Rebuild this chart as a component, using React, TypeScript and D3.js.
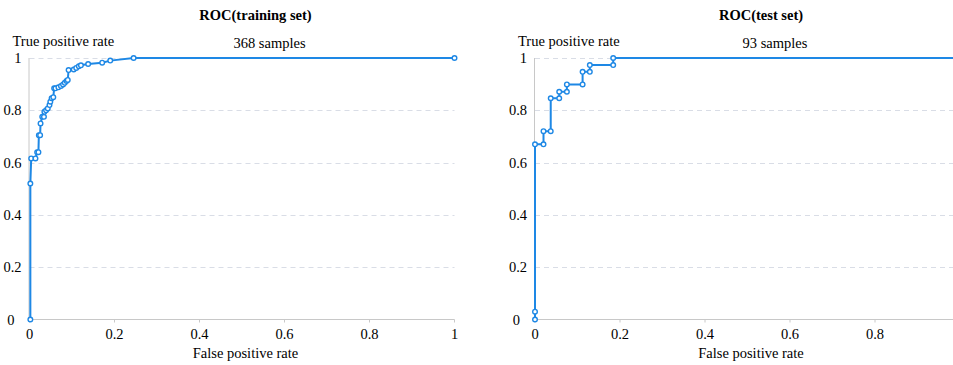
import * as d3 from 'd3'

// training set ROC corners
const trainFpr = [0.002, 0.002, 0.004, 0.014, 0.018, 0.021, 0.022, 0.025, 0.026, 0.03, 0.034, 0.035, 0.039, 0.043, 0.047, 0.049, 0.052, 0.056, 0.058, 0.061, 0.068, 0.074, 0.079, 0.083, 0.087, 0.09, 0.092, 0.104, 0.11, 0.116, 0.121, 0.138, 0.171, 0.19, 0.245, 1]
const trainTpr = [0, 0.52, 0.616, 0.616, 0.64, 0.64, 0.705, 0.705, 0.75, 0.775, 0.775, 0.794, 0.8, 0.807, 0.82, 0.833, 0.846, 0.85, 0.884, 0.884, 0.888, 0.893, 0.899, 0.905, 0.912, 0.916, 0.954, 0.956, 0.962, 0.968, 0.972, 0.977, 0.982, 0.99, 1, 1]

// test set ROC corners
const testFpr = [0, 0, 0, 0.02, 0.02, 0.037, 0.037, 0.057, 0.057, 0.075, 0.075, 0.112, 0.112, 0.129, 0.129, 0.184, 0.184, 1]
const testTpr = [0, 0.03, 0.67, 0.67, 0.72, 0.72, 0.846, 0.846, 0.871, 0.871, 0.899, 0.899, 0.947, 0.947, 0.973, 0.973, 1, 1]

const yTicks = [0, 0.2, 0.4, 0.6, 0.8, 1]
const trainXTicks = [0, 0.2, 0.4, 0.6, 0.8, 1]
const testXTicks = [0, 0.2, 0.4, 0.6, 0.8]

const BLUE = '#1e88e5'
const FONT = '"Liberation Serif", "Times New Roman", serif'

interface PanelProps {
  title: string
  samples: string
  fpr: number[]
  tpr: number[]
  xTicks: number[]
  left: number
  clipRight: number
}

function Panel({ title, samples, fpr, tpr, xTicks, left, clipRight }: PanelProps) {
  const top = 58
  const bottom = 319.5
  const width = 425
  const x = d3.scaleLinear().domain([0, 1]).range([left, left + width])
  const y = d3.scaleLinear().domain([0, 1]).range([bottom, top])
  const pts = fpr.map((f, i) => [f, tpr[i]] as [number, number])
  const line = d3
    .line<[number, number]>()
    .x((d) => x(d[0]))
    .y((d) => y(d[1]))
  const right = Math.min(x(1), clipRight)

  return (
    <g fontFamily={FONT}>
      <text x={left + 226} y={20} textAnchor="middle" fontWeight="bold" fontSize={14.5}>
        {title}
      </text>
      <text x={left - 17} y={46} fontSize={14.5}>
        True positive rate
      </text>
      <text x={left + 240} y={48} textAnchor="middle" fontSize={14.5}>
        {samples}
      </text>
      {yTicks.map((t) => (
        <g key={`y${t}`}>
          {t > 0 && (
            <line
              x1={x(0)}
              x2={right}
              y1={Math.round(y(t)) + 0.5}
              y2={Math.round(y(t)) + 0.5}
              stroke="#d9dde6"
              strokeDasharray="5,4"
            />
          )}
          <text
            x={t === 0 ? left - 15 : left - 8}
            y={y(t) + 5}
            textAnchor="end"
            fontSize={14.5}
          >
            {t}
          </text>
        </g>
      ))}
      <line x1={x(0) - 0.5} x2={x(0) - 0.5} y1={top} y2={bottom} stroke="#c8c8c8" />
      <line x1={x(0)} x2={right} y1={bottom} y2={bottom} stroke="#c8c8c8" strokeWidth={1.2} />
      {xTicks.map((t) => (
        <g key={`x${t}`}>
          <line x1={x(t)} x2={x(t)} y1={bottom} y2={bottom + 3} stroke="#c8c8c8" />
          <text x={x(t)} y={339} textAnchor="middle" fontSize={14.5}>
            {t}
          </text>
        </g>
      ))}
      <text x={left + 216} y={358} textAnchor="middle" fontSize={14.5}>
        False positive rate
      </text>
      <path d={line(pts) || ''} fill="none" stroke={BLUE} strokeWidth={2} />
      {pts.map((p, i) => (
        <circle
          key={i}
          cx={x(p[0])}
          cy={y(p[1])}
          r={2.3}
          fill="#fff"
          stroke={BLUE}
          strokeWidth={1.4}
        />
      ))}
    </g>
  )
}

export default function App() {
  return (
    <svg
      width={953}
      height={365}
      style={{ position: 'absolute', left: 0, top: 0, background: '#fff' }}
    >
      <Panel
        title="ROC(training set)"
        samples="368 samples"
        fpr={trainFpr}
        tpr={trainTpr}
        xTicks={trainXTicks}
        left={29.5}
        clipRight={953}
      />
      <Panel
        title="ROC(test set)"
        samples="93 samples"
        fpr={testFpr}
        tpr={testTpr}
        xTicks={testXTicks}
        left={535}
        clipRight={953}
      />
    </svg>
  )
}
